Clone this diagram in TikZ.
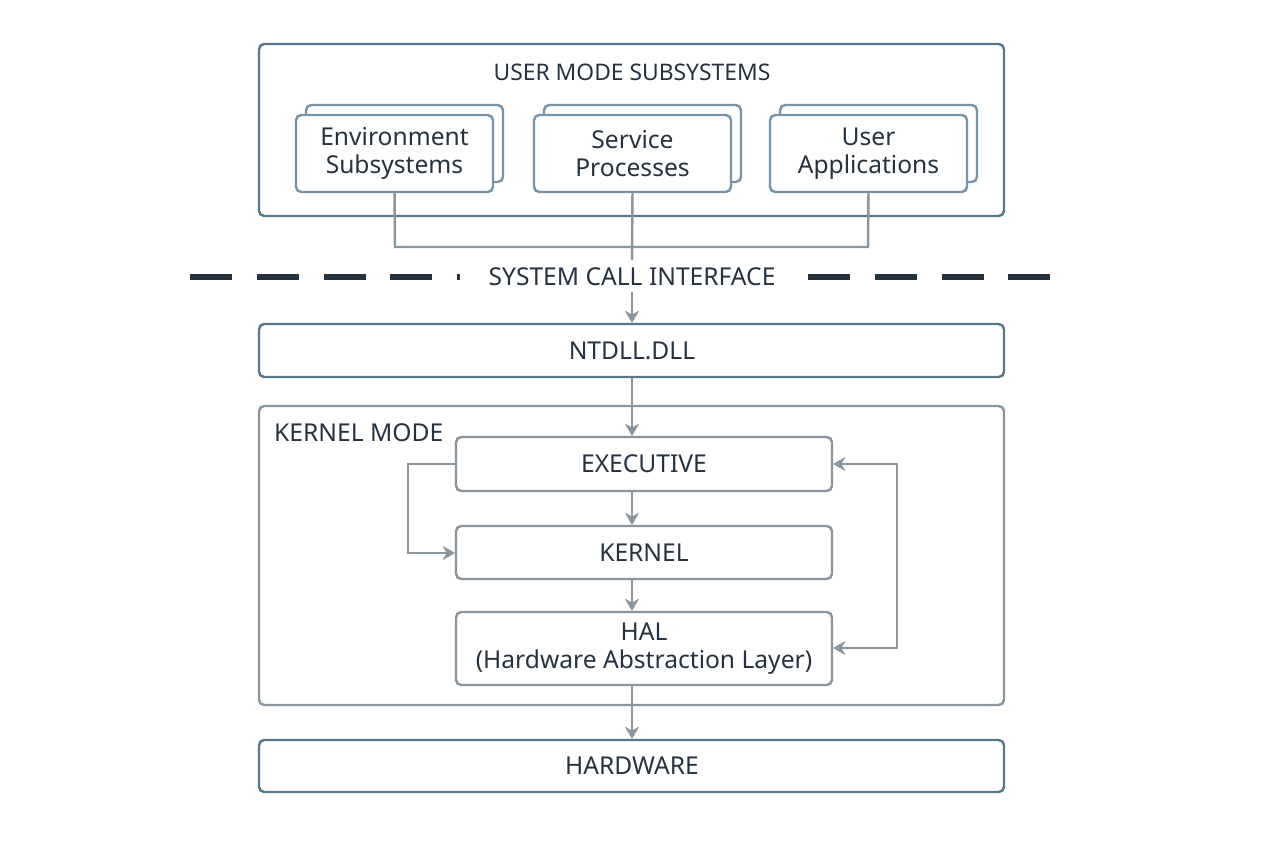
\documentclass[tikz,border=0pt]{standalone}
\usepackage{fontspec}
\setmainfont{Noto Sans}
\usetikzlibrary{arrows.meta}
\definecolor{frameblue}{HTML}{56788F}
\definecolor{linegray}{HTML}{8A959E}
\definecolor{inkdark}{HTML}{26323F}
\begin{document}
\begin{tikzpicture}[x=0.02cm,y=-0.02cm,
    txt/.style={text=inkdark,font=\fontsize{14}{16}\selectfont,align=center},
    hdr/.style={text=inkdark,font=\bfseries\fontsize{13}{15}\selectfont},
    bluebox/.style={draw=frameblue,line width=1.4pt,rounded corners=3pt,fill=white},
    graybox/.style={draw=linegray,line width=1.4pt,rounded corners=3pt,fill=white},
    conn/.style={draw=linegray,line width=1.4pt},
    arr/.style={conn,-{Stealth[length=7pt,width=8pt]}}]
    \useasboundingbox (0,0) rectangle (1264,848);

    % User mode subsystems
    \draw[bluebox] (259,44) rectangle (1004,216);
    \node[hdr] (umtitle) at (632,72) {USER MODE SUBSYSTEMS};
    \foreach \x/\nm/\lbl in {296/env/{Environment\\Subsystems},534/svc/{Service\\Processes},770/app/{User\\Applications}} {
        \draw[graybox,draw=frameblue!80] (\x+10,105) rectangle (\x+207,182);
        \draw[graybox,draw=frameblue!80] (\x,115) rectangle (\x+197,192);
        \node[txt] (\nm) at (\x+98.5,153.5) {\lbl};
        \coordinate (\nm b) at (\x+98.5,192);
    }

    % System call interface
    \node[hdr,font=\bfseries\fontsize{14}{16}\selectfont] (sci) at (632,277) {SYSTEM CALL INTERFACE};
    \draw[inkdark,line width=3.5pt,dash pattern=on 24pt off 14pt] (190,277) -- (460,277);
    \draw[inkdark,line width=3.5pt,dash pattern=on 24pt off 14pt] (808,277) -- (1075,277);

    % Layers
    \draw[bluebox] (259,324) rectangle (1004,377);
    \node[txt] (ntdll) at (632,350.5) {NTDLL.DLL};
    \draw[graybox] (259,406) rectangle (1004,705);
    \node[hdr,anchor=west,font=\bfseries\fontsize{14}{16}\selectfont] (kmode) at (268,433) {KERNEL MODE};
    \draw[graybox] (456,437) rectangle (832,491);
    \node[txt] (exec) at (644,464) {EXECUTIVE};
    \draw[graybox] (456,526) rectangle (832,579);
    \node[txt] (kern) at (644,552.5) {KERNEL};
    \draw[graybox] (456,612) rectangle (832,685);
    \node[txt] (hal) at (644,648.5) {HAL\\(Hardware Abstraction Layer)};
    \draw[bluebox] (259,740) rectangle (1004,792);
    \node[txt] (hw) at (632,766) {HARDWARE};

    % Connectors
    \draw[conn] (envb) -- (395,247) -- (868,247) -- (appb);
    \draw[conn] (svcb) -- (632,260);
    \draw[arr] (632,292) -- (632,323);
    \draw[arr] (632,377) -- (632,436);
    \draw[arr] (632,491) -- (632,525);
    \draw[arr] (632,579) -- (632,611);
    \draw[arr] (632,685) -- (632,739);
    \draw[arr] (456,464) -- (408,464) -- (408,553) -- (455,553);
    \draw[conn,{Stealth[length=7pt,width=8pt]}-{Stealth[length=7pt,width=8pt]}] (833,648) -- (897,648) -- (897,464) -- (833,464);
\end{tikzpicture}
\end{document}
